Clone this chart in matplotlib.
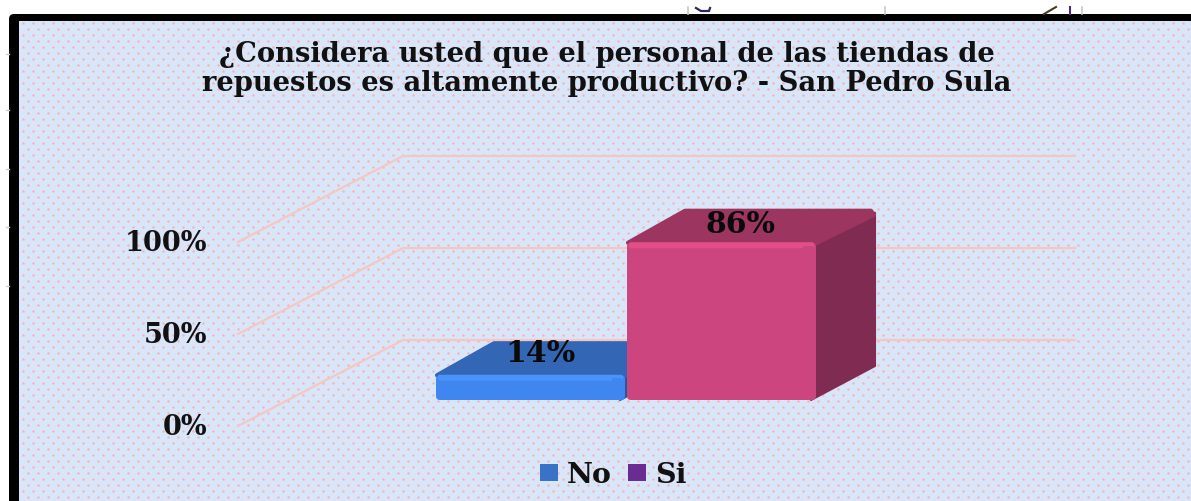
import matplotlib
matplotlib.use('Agg')
import matplotlib.pyplot as plt
import numpy as np
from matplotlib.patches import FancyBboxPatch, Polygon, Rectangle, Patch

categories = ['No', 'Si']
values = [14, 86]
value_labels = ['14%', '86%']
tick_values = [0, 50, 100]
tick_labels = ['0%', '50%', '100%']
title = '¿Considera usted que el personal de las tiendas de\nrepuestos es altamente productivo? - San Pedro Sula'

W, H = 1191, 502
SERIF = ['DejaVu Serif', 'Liberation Serif']

BG = '#D9E5F9'
DOT = '#F8B4AE'
GRID = '#F7C6C0'
FRONT = ['#3F86F0', '#CC457E']
LIGHT = ['#4A93FA', '#E44E88']
TOP = ['#3366B4', '#9C355F']
SIDE = ['#2B5798', '#802C52']
LEGEND = ['#3A72C8', '#6A2C90']

# pixel geometry of the fake 3D box
PX_PER_PCT = 1.84
BASE = 401          # bar floor, front edge
BAR_X0 = 435
BAR_W = 191
DX, DY = 59, -33    # bar depth
AX_X0, AX_Y0 = 238, 427
WALL_DX, WALL_DY = 165, -86
WALL_END = 1075


def bar_y(v):
    return BASE - v * PX_PER_PCT


def axis_y(v):
    return AX_Y0 - v * PX_PER_PCT


fig = plt.figure(figsize=(W / 100, H / 100), dpi=100, facecolor='white')
ax = fig.add_axes([0, 0, 1, 1])
ax.set_xlim(0, W)
ax.set_ylim(H, 0)
ax.axis('off')

# frame and panel
ax.add_patch(FancyBboxPatch((12, 18), W + 40, H + 40, boxstyle='round,pad=3,rounding_size=5',
                            fc='black', ec='none', zorder=1))
ax.add_patch(Rectangle((19, 21.5), W, H, fc=BG, ec='none', zorder=2))

# dotted panel pattern, staggered rows
xs, ys = [], []
for r, yy in enumerate(np.arange(24, H + 5, 6.0)):
    off = 0 if r % 2 == 0 else 5
    for xx in np.arange(23 + off, W + 5, 10.0):
        xs.append(xx)
        ys.append(yy)
ax.scatter(xs, ys, s=3, c=DOT, linewidths=0, zorder=3)

# leftovers of the page above the frame
for x in [688, 885, 1082]:
    ax.plot([x, x], [8, 15], color='#C8C8C8', lw=1.2, zorder=1)
ax.plot([696, 701, 709, 710], [9, 12, 12, 9], color='#2A2A55', lw=1.6, zorder=1)
ax.plot([1044, 1056], [15, 8], color='#4A3A20', lw=1.5, zorder=1)
ax.plot([1070, 1070], [8, 15], color='#4A2A80', lw=1.5, zorder=1)
for y in [55, 111, 170, 228, 287]:
    ax.plot([6, 9], [y, y], color='#CFCFCF', lw=1, zorder=1)

# gridlines, side wall then back wall
for v in tick_values:
    y = axis_y(v)
    ax.plot([AX_X0, AX_X0 + WALL_DX, WALL_END], [y, y + WALL_DY, y + WALL_DY],
            color=GRID, lw=1.5, zorder=4, solid_joinstyle='miter')

for v, lab in zip(tick_values, tick_labels):
    ax.text(207, axis_y(v) + 0.5, lab, ha='right', va='center', fontsize=19.5,
            fontweight='bold', family=SERIF, color='#111111', zorder=9)

# bars
for i, v in enumerate(values):
    x0 = BAR_X0 + i * BAR_W
    x1 = x0 + BAR_W
    yt = bar_y(v)
    # side, top, front
    ax.add_patch(Polygon([(x1 - 6, BASE), (x1 + DX - 1, BASE + DY - 1), (x1 + DX - 1, yt + DY + 4), (x1 - 6, yt)],
                         closed=True, fc=SIDE[i], ec=SIDE[i], lw=1.5, joinstyle='round', zorder=5 + i))
    ax.add_patch(Polygon([(x0 + 2, yt + 1), (x0 + DX, yt + DY + 2), (x1 + DX - 5, yt + DY + 2), (x1 + DX - 2, yt + DY + 6), (x1 - 2, yt + 2)],
                         closed=True, fc=TOP[i], ec=TOP[i], lw=3, joinstyle='round', zorder=5 + i))
    ax.add_patch(FancyBboxPatch((x0 + 3, yt + 3), BAR_W - 6, BASE - yt - 5,
                                boxstyle='round,pad=2,rounding_size=4', fc=FRONT[i], ec='none', zorder=6 + i))
    ax.add_patch(FancyBboxPatch((x0 + 4, yt + 1.5), BAR_W - 8, 4,
                                boxstyle='round,pad=1,rounding_size=2', fc=LIGHT[i], ec='none', zorder=6 + i))
    ax.add_patch(Rectangle((x1 - 14, yt + 4), 10, BASE - yt - 6, fc=FRONT[i], ec='none', zorder=6 + i))

label_dx = [9.5, 19]
label_dy = [-22, -18]
for i, (v, lab) in enumerate(zip(values, value_labels)):
    cx = BAR_X0 + i * BAR_W + BAR_W / 2 + label_dx[i]
    ax.text(cx, bar_y(v) + label_dy[i], lab, ha='center', va='center', fontsize=21.5,
            fontweight='bold', family=SERIF, color='#0A0A0A', zorder=9)

ax.text(607, 69, title, ha='center', va='center', fontsize=19.7, fontweight='bold',
        family=SERIF, color='#111111', linespacing=1.13, zorder=9)

handles = [Patch(fc=LEGEND[i], ec='none', label=categories[i]) for i in range(2)]
ax.legend(handles=handles, loc='center', bbox_to_anchor=(613 / W, 1 - 476 / H), ncols=2, frameon=False,
          handlelength=0.63, handleheight=0.56, handletextpad=0.3, columnspacing=0.6, borderpad=0,
          prop={'family': SERIF, 'weight': 'bold', 'size': 20.5}, labelcolor='#111111')

fig.savefig('out.png', dpi=100, facecolor='white')
